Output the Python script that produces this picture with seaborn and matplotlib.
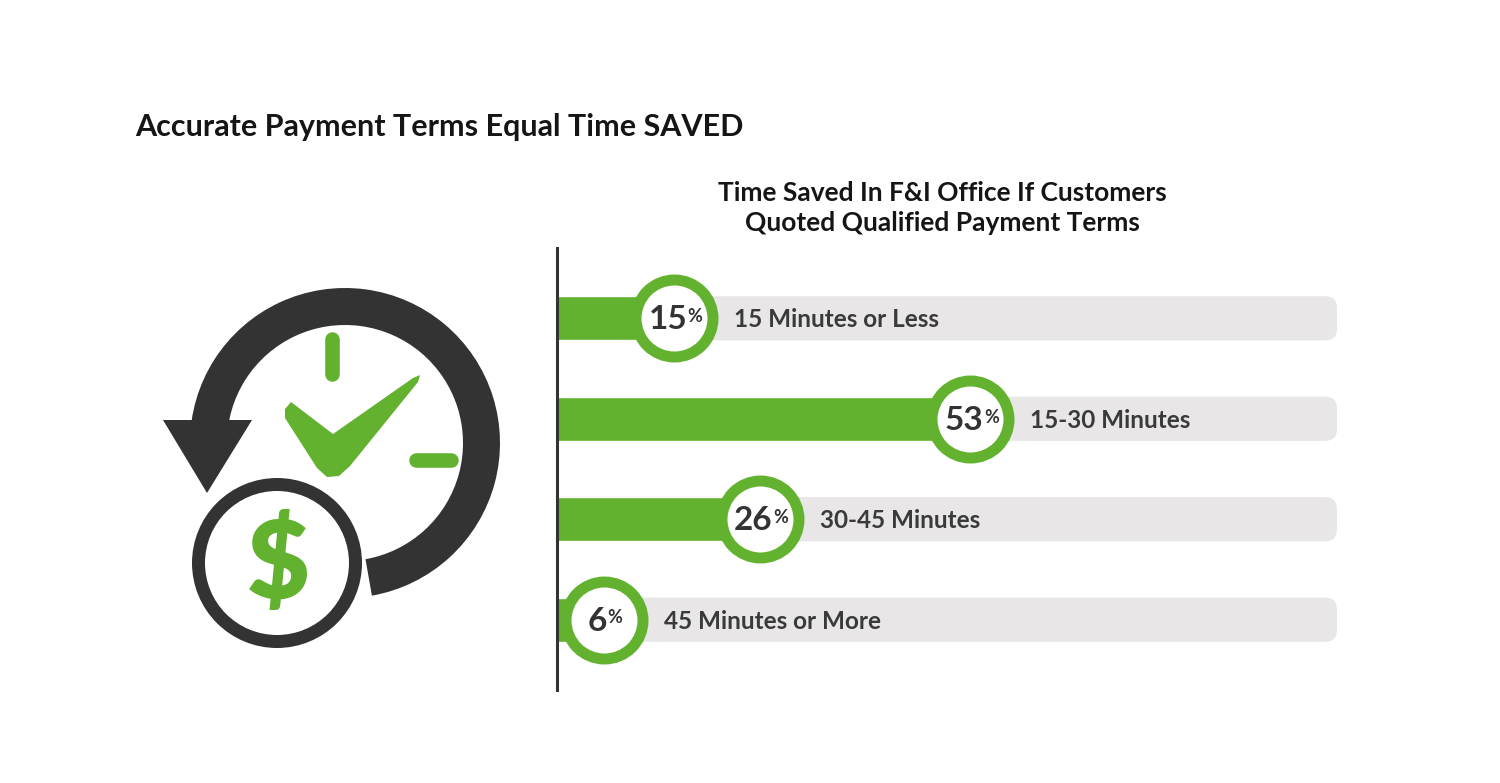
import numpy as np
import pandas as pd
import matplotlib
matplotlib.use("Agg")
import matplotlib.pyplot as plt
import seaborn as sns
from matplotlib.patches import Wedge, Circle, Polygon, FancyBboxPatch

# data
categories = ["15 Minutes or Less", "15-30 Minutes", "30-45 Minutes", "45 Minutes or More"]
percent_values = [15, 53, 26, 6]
track_values = [100, 100, 100, 100]

title = "Accurate Payment Terms Equal Time SAVED"
subtitle = "Time Saved In F&I Office If Customers\nQuoted Qualified Payment Terms"

GREEN = "#62b22f"
DARK = "#333333"
TRACK = "#e8e6e7"

sns.set_style("white")
plt.rcParams["font.family"] = ["Lato", "DejaVu Sans"]

W, H = 1500, 783
fig = plt.figure(figsize=(W / 100, H / 100), dpi=100)
fig.patch.set_facecolor("white")

# background axes in pixel units for the icon and headings
bg = fig.add_axes([0, 0, 1, 1], zorder=0)
bg.set_xlim(0, W)
bg.set_ylim(H, 0)
bg.axis("off")

bg.text(135, 127, title, fontsize=22, fontweight="bold", color="#151515",
        ha="left", va="center")
bg.text(942, 208, subtitle, fontsize=19, fontweight="bold", color="#151515",
        ha="center", va="center", linespacing=1.3)

# icon: arrow around the clock
bg.add_patch(Wedge((345, 443), 155, -180, 80, width=37, color=DARK, lw=0))
bg.add_patch(Polygon([(163, 420), (252, 420), (207, 493)], closed=True, color=DARK, lw=0))
# coin
bg.add_patch(Circle((277, 563), 85, color=DARK, lw=0))
bg.add_patch(Circle((277, 563), 72, color="white", lw=0))
bg.text(278, 566, "$", fontsize=78, fontweight="heavy", color=GREEN,
        ha="center", va="center")
# clock marks + check
bg.plot([332, 332], [339, 374], color=GREEN, lw=10.5, solid_capstyle="round")
bg.plot([416, 451], [460, 460], color=GREEN, lw=10.5, solid_capstyle="round")
bg.add_patch(Polygon([(285, 409), (291, 402), (333, 434), (413, 378), (420, 375),
                      (418, 382), (350, 466), (339, 476), (327, 477), (317, 468),
                      (285, 418)],
                     closed=True, color=GREEN, lw=0))

# chart axes
ax = fig.add_axes([557 / W, (H - 690) / H, 780 / W, 442 / H], zorder=1)
ax.patch.set_alpha(0)

df = pd.DataFrame({"category": categories, "percent": percent_values, "track": track_values})

sns.barplot(data=df, x="track", y="category", orient="h", width=0.44,
            color=TRACK, saturation=1, ax=ax)
# round the track ends
px_x = 780 / 100.0
px_y = 442 / 4.4
r_x = 12 / px_x
r_y = 12 / px_y
for p in list(ax.patches):
    x0, y0 = p.get_x(), p.get_y()
    w, h = p.get_width(), p.get_height()
    p.remove()
    ax.add_patch(FancyBboxPatch((x0, y0), w, h,
                                boxstyle=f"round,pad=0,rounding_size={r_x}",
                                mutation_aspect=r_y / r_x, fc=TRACK, ec="none", zorder=1))

sns.barplot(data=df, x="percent", y="category", orient="h", width=0.44,
            color=GREEN, saturation=1, ax=ax, zorder=2)

pos = np.arange(len(categories))
ax.scatter(df["percent"], pos, s=3073, facecolor="white", edgecolor=GREEN,
           linewidth=7.9, zorder=3, clip_on=False)

for i, (v, lab) in enumerate(zip(df["percent"], df["category"])):
    t = ax.annotate(str(v), xy=(v, i), xytext=(-4.5, -1), textcoords="offset points",
                    fontsize=24, fontweight="bold", color=DARK,
                    ha="center", va="center", zorder=4)
    ax.annotate("%", xy=(1.0, 0.9), xycoords=t, xytext=(0.3, 0),
                textcoords="offset points", fontsize=13, fontweight="bold",
                color=DARK, ha="left", va="top", zorder=4)
    ax.annotate(lab, xy=(v, i), xytext=(43, -1), textcoords="offset points",
                fontsize=17.5, fontweight="bold", color="#3a3a3a",
                ha="left", va="center", zorder=4)

ax.set_xlim(0, 100)
ax.set_ylim(3.7, -0.7)
ax.set_xlabel("")
ax.set_ylabel("")
ax.set_xticks([])
ax.set_yticks([])
for s in ["top", "right", "bottom"]:
    ax.spines[s].set_visible(False)
ax.spines["left"].set_color(DARK)
ax.spines["left"].set_linewidth(2.2)

fig.savefig("out.png", dpi=100, facecolor="white")
